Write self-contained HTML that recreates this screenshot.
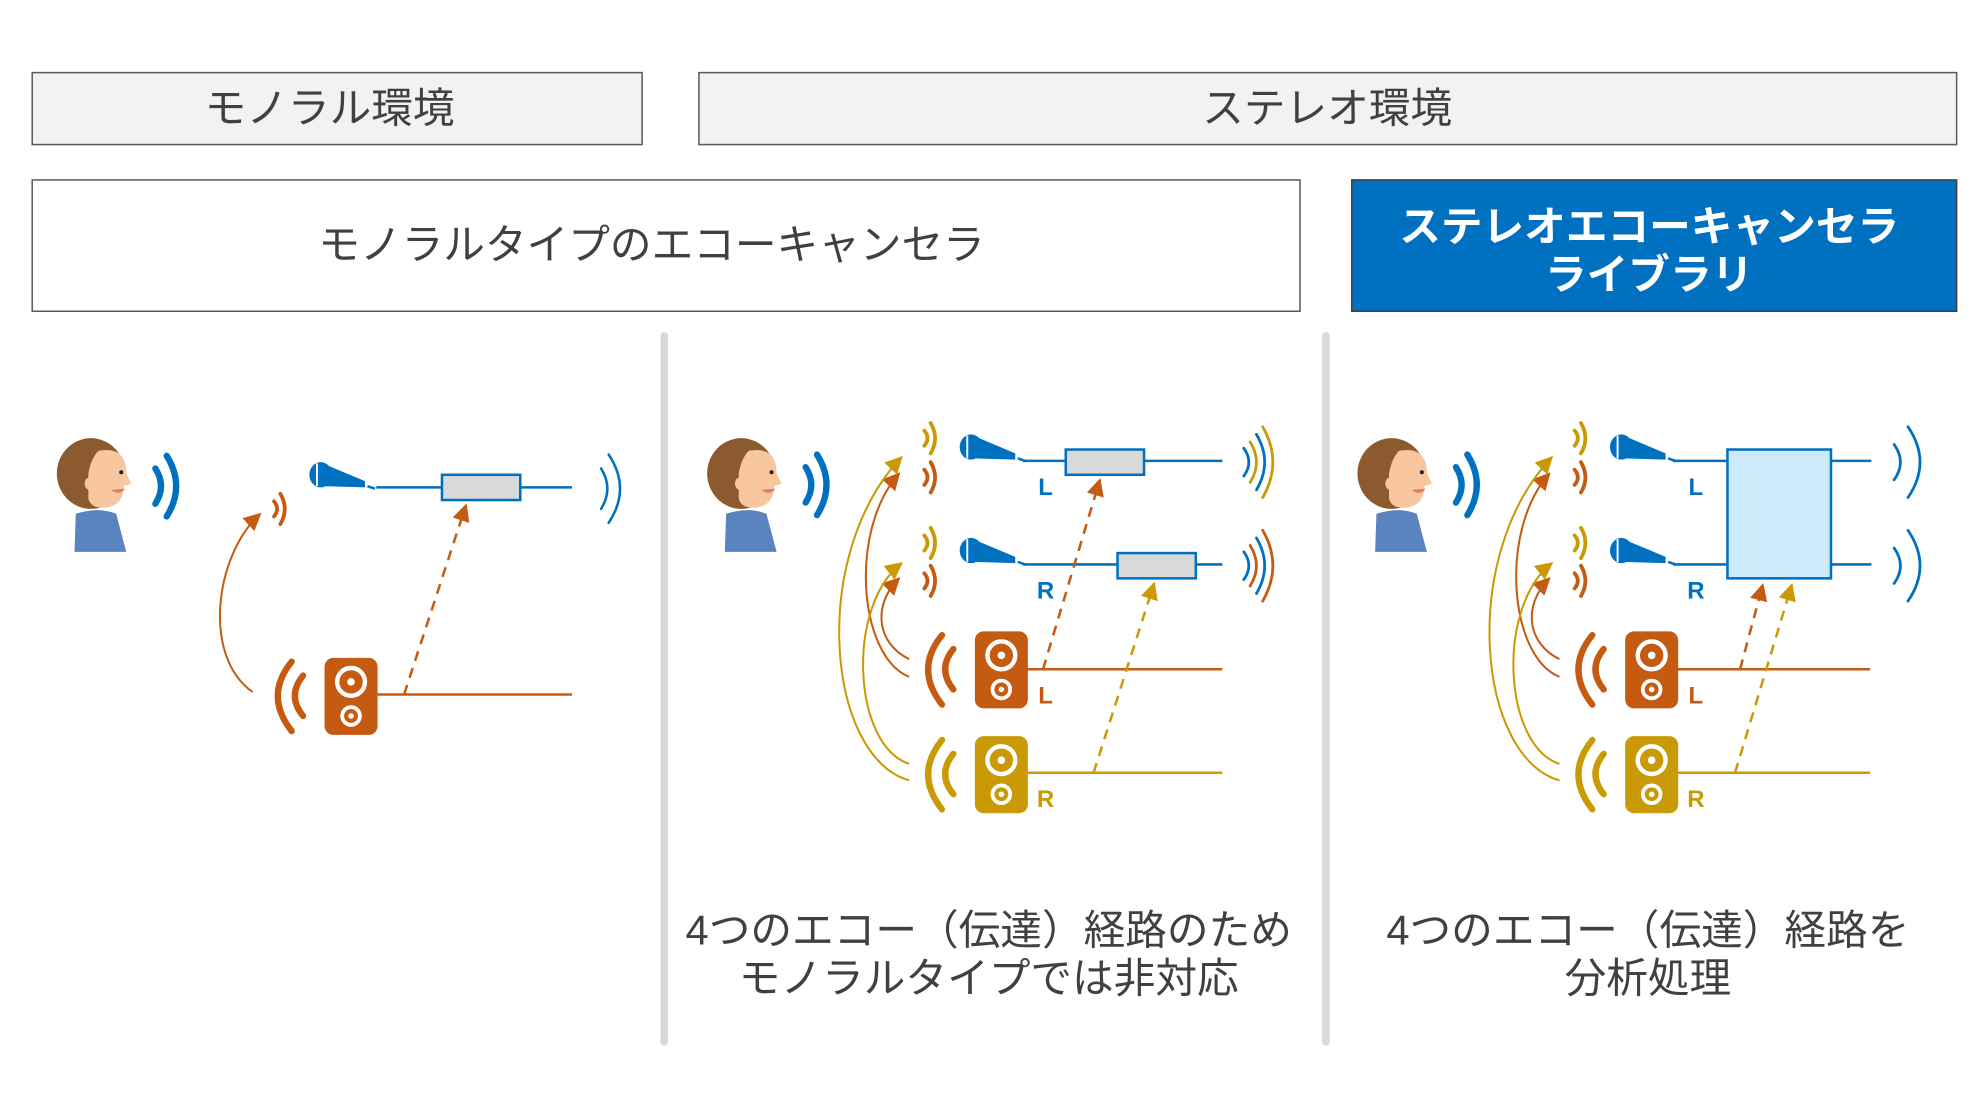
<!DOCTYPE html>
<html><head><meta charset="utf-8"><style>
html,body{margin:0;padding:0;background:#fff;}
svg{display:block;}
text{font-family:"Liberation Sans","Noto Sans CJK JP",sans-serif;}
</style></head><body>
<svg width="1980" height="1115" viewBox="0 0 1568 883" xmlns="http://www.w3.org/2000/svg">
<defs>
<marker id="ao" viewBox="0 0 10 10" refX="9" refY="5" markerWidth="14" markerHeight="14" orient="auto" markerUnits="userSpaceOnUse"><path d="M0,0 L10,5 L0,10z" fill="#c55a11"/></marker>
<marker id="ag" viewBox="0 0 10 10" refX="9" refY="5" markerWidth="14" markerHeight="14" orient="auto" markerUnits="userSpaceOnUse"><path d="M0,0 L10,5 L0,10z" fill="#c99a06"/></marker>

<g id="person">
 <path d="M20,62 L19,92 L60,92 L52,62 Q38,56 20,62z" fill="#5a84bf"/>
 <ellipse cx="32" cy="30" rx="27" ry="28" fill="#8b5a2e"/>
 <path d="M38,12 Q60,8 60,30 L64,38 L58,40 Q58,55 44,57 Q32,58 30,50 L30,30 Q32,18 38,12z" fill="#f8c7a0"/>
 <circle cx="56" cy="29" r="1.6" fill="#222"/>
 <path d="M48,43 Q55,48 59,42z" fill="#e07a6a"/>
 <ellipse cx="31" cy="38" rx="4" ry="5" fill="#f8c7a0"/>
</g>
<g id="bwave" fill="none" stroke="#0070c0" stroke-width="5" stroke-linecap="round">
 <path d="M0,-14 Q9,0 0,14"/><path d="M9,-24 Q24,0 9,24"/>
</g>
<g id="mic">
 <ellipse cx="9" cy="7" rx="9" ry="10" fill="#0070c0"/>
 <path d="M13,-1 L44,12 L44,17 L11,16z" fill="#0070c0"/>
 <line x1="6" y1="-2" x2="6" y2="16" stroke="#fff" stroke-width="1.5"/>
 <line x1="46" y1="16" x2="52" y2="18" stroke="#0070c0" stroke-width="2"/>
</g>
<g id="spkO">
 <rect x="0" y="0" width="42" height="61" rx="7" fill="#c55a11"/>
 <circle cx="21" cy="19" r="11" fill="none" stroke="#fff" stroke-width="3.5"/><circle cx="21" cy="19" r="3" fill="#fff"/>
 <circle cx="21" cy="46" r="7" fill="none" stroke="#fff" stroke-width="3"/><circle cx="21" cy="46" r="2.2" fill="#fff"/>
 <g fill="none" stroke="#c55a11" stroke-width="5" stroke-linecap="round">
  <path d="M-26,3 Q-48,30 -26,58"/><path d="M-17,14 Q-30,30 -17,46"/>
 </g>
</g>
<g id="spkG">
 <rect x="0" y="0" width="42" height="61" rx="7" fill="#c99a06"/>
 <circle cx="21" cy="19" r="11" fill="none" stroke="#fff" stroke-width="3.5"/><circle cx="21" cy="19" r="3" fill="#fff"/>
 <circle cx="21" cy="46" r="7" fill="none" stroke="#fff" stroke-width="3"/><circle cx="21" cy="46" r="2.2" fill="#fff"/>
 <g fill="none" stroke="#c99a06" stroke-width="5" stroke-linecap="round">
  <path d="M-26,3 Q-48,30 -26,58"/><path d="M-17,14 Q-30,30 -17,46"/>
 </g>
</g>
<g id="swO" fill="none" stroke="#c55a11" stroke-width="3" stroke-linecap="round"><path d="M0,-6 Q5,0 0,6"/><path d="M5,-12 Q12,0 5,12"/></g>
<g id="swG" fill="none" stroke="#c99a06" stroke-width="3" stroke-linecap="round"><path d="M0,-6 Q5,0 0,6"/><path d="M5,-12 Q12,0 5,12"/></g>

<g id="stereoLeft">
 <use href="#person" x="555" y="345"/>
 <use href="#bwave" x="638" y="384"/>
 <use href="#swG" x="732" y="347"/><use href="#swO" x="732" y="378"/>
 <use href="#swG" x="732" y="430"/><use href="#swO" x="732" y="460"/>
 <use href="#mic" x="760" y="347"/><use href="#mic" x="760" y="429"/>
 <text x="828" y="392" font-size="19" font-weight="bold" fill="#0070c0" text-anchor="middle">L</text>
 <text x="828" y="474" font-size="19" font-weight="bold" fill="#0070c0" text-anchor="middle">R</text>
 <use href="#spkO" x="772" y="500"/><use href="#spkG" x="772" y="583"/>
 <text x="828" y="557" font-size="19" font-weight="bold" fill="#c55a11" text-anchor="middle">L</text>
 <text x="828" y="639" font-size="19" font-weight="bold" fill="#c99a06" text-anchor="middle">R</text>
 <g fill="none" stroke-width="1.6">
  <path d="M720,536 C680,520 672,420 712,375" stroke="#c55a11" marker-end="url(#ao)"/>
  <path d="M720,522 C695,510 690,480 712,458" stroke="#c55a11" marker-end="url(#ao)"/>
  <path d="M720,618 C655,600 640,440 714,362" stroke="#c99a06" marker-end="url(#ag)"/>
  <path d="M720,605 C675,590 670,480 714,446" stroke="#c99a06" marker-end="url(#ag)"/>
 </g>
</g>
</defs>

<rect x="25.5" y="57.5" width="483" height="57" fill="#f2f2f2" stroke="#595959" stroke-width="1.2"/>
<text x="261" y="97" font-size="33" fill="#404040" text-anchor="middle">モノラル環境</text>
<rect x="553.5" y="57.5" width="996" height="57" fill="#f2f2f2" stroke="#595959" stroke-width="1.2"/>
<text x="1051" y="97" font-size="33" fill="#404040" text-anchor="middle">ステレオ環境</text>
<rect x="25.5" y="142.5" width="1004" height="104" fill="#fff" stroke="#595959" stroke-width="1.2"/>
<text x="516" y="205" font-size="33" fill="#404040" text-anchor="middle">モノラルタイプのエコーキャンセラ</text>
<rect x="1070.5" y="142.5" width="479" height="104" fill="#0070c0" stroke="#404040" stroke-width="1.2"/>
<text x="1306" y="191" font-size="33" font-weight="bold" fill="#fff" text-anchor="middle">ステレオエコーキャンセラ</text>
<text x="1306" y="229" font-size="33" font-weight="bold" fill="#fff" text-anchor="middle">ライブラリ</text>

<line x1="526" y1="266" x2="526" y2="825" stroke="#d9d9d9" stroke-width="6" stroke-linecap="round"/>
<line x1="1050" y1="266" x2="1050" y2="825" stroke="#d9d9d9" stroke-width="6" stroke-linecap="round"/>

<!-- panel 1 -->
<use href="#person" x="40" y="345"/>
<use href="#bwave" x="123" y="385"/>
<use href="#swO" x="217" y="403"/>
<use href="#mic" x="245" y="369"/>
<line x1="298" y1="386" x2="453" y2="386" stroke="#0070c0" stroke-width="2"/>
<rect x="350" y="376" width="62" height="20" fill="#d9d9d9" stroke="#0070c0" stroke-width="2"/>
<g fill="none" stroke="#0070c0" stroke-width="2" stroke-linecap="round"><path d="M476,371 Q486,387 476,403"/><path d="M482,360 Q500,387 482,414"/></g>
<use href="#spkO" x="257" y="521"/>
<line x1="299" y1="550" x2="453" y2="550" stroke="#c55a11" stroke-width="2"/>
<path d="M320,550 L369,400" stroke="#c55a11" stroke-width="2" stroke-dasharray="8,6" fill="none" marker-end="url(#ao)"/>
<path d="M200,548 C160,520 170,440 206,407" stroke="#c55a11" stroke-width="1.6" fill="none" marker-end="url(#ao)"/>

<!-- panel 2 -->
<use href="#stereoLeft"/>
<line x1="810" y1="365" x2="968" y2="365" stroke="#0070c0" stroke-width="2"/>
<rect x="844" y="356" width="62" height="20" fill="#d9d9d9" stroke="#0070c0" stroke-width="2"/>
<line x1="810" y1="447" x2="968" y2="447" stroke="#0070c0" stroke-width="2"/>
<rect x="885" y="438" width="62" height="20" fill="#d9d9d9" stroke="#0070c0" stroke-width="2"/>
<line x1="813" y1="530" x2="968" y2="530" stroke="#c55a11" stroke-width="2"/>
<line x1="813" y1="612" x2="968" y2="612" stroke="#c99a06" stroke-width="2"/>
<path d="M826,530 L871,380" stroke="#c55a11" stroke-width="2" stroke-dasharray="8,6" fill="none" marker-end="url(#ao)"/>
<path d="M866,612 L914,462" stroke="#c99a06" stroke-width="2" stroke-dasharray="8,6" fill="none" marker-end="url(#ag)"/>
<g fill="none" stroke-width="2.2" stroke-linecap="round">
 <path d="M985,355 Q993,366 985,377" stroke="#0070c0"/><path d="M990,350 Q1000,366 990,382" stroke="#c99a06"/>
 <path d="M995,344 Q1008,366 995,388" stroke="#0070c0"/><path d="M1000,338 Q1016,366 1000,394" stroke="#c99a06"/>
 <path d="M985,437 Q993,448 985,459" stroke="#0070c0"/><path d="M990,432 Q1000,448 990,464" stroke="#c55a11"/>
 <path d="M995,426 Q1008,448 995,470" stroke="#0070c0"/><path d="M1000,420 Q1016,448 1000,476" stroke="#c55a11"/>
</g>

<!-- panel 3 -->
<use href="#stereoLeft" transform="translate(515,0)"/>
<line x1="1325" y1="365" x2="1482" y2="365" stroke="#0070c0" stroke-width="2"/>
<line x1="1325" y1="447" x2="1482" y2="447" stroke="#0070c0" stroke-width="2"/>
<rect x="1368" y="356" width="82" height="102" fill="#cdeafc" stroke="#0070c0" stroke-width="2"/>
<line x1="1328" y1="530" x2="1481" y2="530" stroke="#c55a11" stroke-width="2"/>
<line x1="1328" y1="612" x2="1481" y2="612" stroke="#c99a06" stroke-width="2"/>
<path d="M1378,530 L1396,463" stroke="#c55a11" stroke-width="2" stroke-dasharray="8,6" fill="none" marker-end="url(#ao)"/>
<path d="M1374,612 L1419,463" stroke="#c99a06" stroke-width="2" stroke-dasharray="8,6" fill="none" marker-end="url(#ag)"/>
<g fill="none" stroke="#0070c0" stroke-width="2.2" stroke-linecap="round">
 <path d="M1500,352 Q1510,366 1500,380"/><path d="M1511,338 Q1530,366 1511,394"/>
 <path d="M1500,434 Q1510,448 1500,462"/><path d="M1511,420 Q1530,448 1511,476"/>
</g>

<text x="783" y="748" font-size="33" fill="#404040" text-anchor="middle">4つのエコー（伝達）経路のため</text>
<text x="783" y="786" font-size="33" fill="#404040" text-anchor="middle">モノラルタイプでは非対応</text>
<text x="1305" y="748" font-size="33" fill="#404040" text-anchor="middle">4つのエコー（伝達）経路を</text>
<text x="1305" y="786" font-size="33" fill="#404040" text-anchor="middle">分析処理</text>
</svg>
</body></html>
